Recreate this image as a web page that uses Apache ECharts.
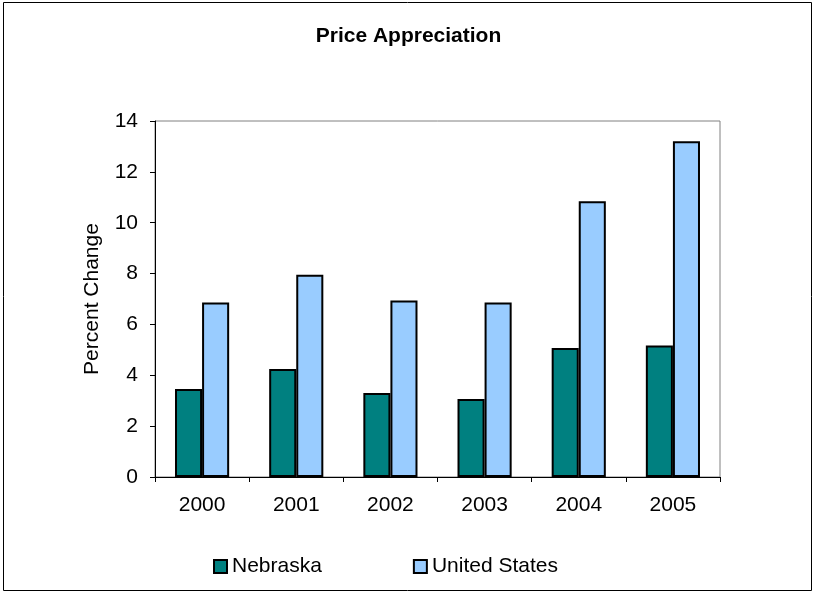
<!DOCTYPE html>
<html>
<head>
<meta charset="utf-8">
<script src="https://cdn.jsdelivr.net/npm/echarts@6/dist/echarts.min.js"></script>
<style>html,body{margin:0;padding:0;background:#fff;}#c{width:817px;height:595px;}</style>
</head>
<body>
<div id="c"></div>
<script>
const categories = ['2000', '2001', '2002', '2003', '2004', '2005'];
const nebraska = [3.46, 4.25, 3.30, 3.07, 5.07, 5.17];
const unitedStates = [6.86, 7.95, 6.94, 6.86, 10.84, 13.2];
const yTicks = { min: 0, max: 14, interval: 2 };

const chart = echarts.init(document.getElementById('c'), null, { renderer: 'canvas' });
const font = '"Liberation Sans", Arial, sans-serif';
chart.setOption({
  animation: false,
  backgroundColor: '#fff',
  textStyle: { fontFamily: font },
  title: {
    text: 'Price Appreciation', left: 'center', top: 21,
    textStyle: { fontFamily: font, fontSize: 21, fontWeight: 'bold', color: '#000' }
  },
  graphic: [{
    type: 'rect', shape: { x: 3.5, y: 2.5, width: 808, height: 588 },
    style: { fill: 'none', stroke: '#000', lineWidth: 1 }, silent: true, z: -1
  }],
  legend: {
    left: 208, top: 551, itemWidth: 13, itemHeight: 13, itemGap: 91,
    icon: 'rect',
    textStyle: { fontFamily: font, fontSize: 21, color: '#000' },
    data: ['Nebraska', 'United States']
  },
  grid: { left: 155, top: 121, right: 97, bottom: 118, show: true, borderColor: '#808080', borderWidth: 1, backgroundColor: '#fff' },
  xAxis: {
    type: 'category', data: categories,
    axisLine: { lineStyle: { color: '#000', width: 1 } },
    axisTick: { show: true, length: 5, lineStyle: { color: '#000' } },
    axisLabel: { fontFamily: font, fontSize: 21, color: '#000', margin: 18 }
  },
  yAxis: {
    type: 'value', min: yTicks.min, max: yTicks.max, interval: yTicks.interval,
    name: 'Percent Change', nameLocation: 'middle', nameGap: 52,
    nameTextStyle: { fontFamily: font, fontSize: 21, color: '#000' },
    axisLine: { show: true, lineStyle: { color: '#000', width: 1 } },
    axisTick: { show: true, length: 5, lineStyle: { color: '#000' } },
    splitLine: { show: false },
    axisLabel: { fontFamily: font, fontSize: 21, color: '#000', margin: 17 }
  },
  series: [
    { name: 'Nebraska', type: 'bar', data: nebraska, barGap: '0%', barCategoryGap: '42.5%',
      itemStyle: { color: '#008080', borderColor: '#000', borderWidth: 2 } },
    { name: 'United States', type: 'bar', data: unitedStates, barGap: '0%', barCategoryGap: '42.5%',
      itemStyle: { color: '#99ccff', borderColor: '#000', borderWidth: 2 } }
  ]
});
</script>
</body>
</html>
